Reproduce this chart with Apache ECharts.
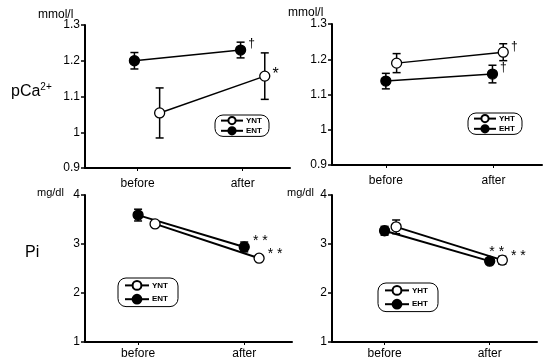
<!DOCTYPE html>
<html>
<head>
<meta charset="utf-8">
<script src="https://cdn.jsdelivr.net/npm/echarts@6/dist/echarts.min.js"></script>
<style>
  html, body { margin: 0; padding: 0; background: #fff; }
  #chart { width: 546px; height: 363px; }
</style>
</head>
<body>
<div id="chart"></div>
<script>
// before / after, four panels (pCa2+ and Pi, normotensive vs hypertensive)
const categories = ['before', 'after'];

// panel 1: pCa2+ normotensive
const yntCaX = [0.21, 0.21];
const yntCa = [1.054, 1.157];
const yntCaErr = [0.07, 0.065];
const yntCaNote = ['', '*'];
const entCaX = [-0.03, -0.02];
const entCa = [1.20, 1.23];
const entCaErr = [0.023, 0.022];
const entCaNote = ['', '†'];

// panel 2: pCa2+ hypertensive
const yhtCaX = [0.10, 0.09];
const yhtCa = [1.189, 1.22];
const yhtCaErr = [0.027, 0.024];
const yhtCaNote = ['', '†'];
const ehtCaX = [0, -0.01];
const ehtCa = [1.138, 1.158];
const ehtCaErr = [0.022, 0.025];
const ehtCaNote = ['', '†'];

// panel 3: Pi normotensive
const yntPiX = [0.16, 0.14];
const yntPi = [3.41, 2.71];
const yntPiErr = [0.04, 0.04];
const yntPiNote = ['', '* *'];
const entPiX = [0, 0];
const entPi = [3.59, 2.94];
const entPiErr = [0.12, 0.1];
const entPiNote = ['', '* *'];

// panel 4: Pi hypertensive
const yhtPiX = [0.11, 0.12];
const yhtPi = [3.35, 2.67];
const yhtPiErr = [0.14, 0.08];
const yhtPiNote = ['', '* *'];
const ehtPiX = [0, 0];
const ehtPi = [3.27, 2.65];
const ehtPiErr = [0.09, 0.06];
const ehtPiNote = ['', '* *'];

const caTicks = [0.9, 1.3, 0.1];
const piTicks = [1, 4, 1];

const font = 'Liberation Sans, Arial, sans-serif';

const grids = [
  { left: 85, top: 25, width: 205, height: 143 },
  { left: 332, top: 24, width: 210, height: 141 },
  { left: 85, top: 195, width: 207, height: 147 },
  { left: 332, top: 195, width: 205, height: 147 }
];
const yTicks = [caTicks, caTicks, piTicks, piTicks];

const xAxes = grids.map((g, i) => ({
  type: 'value',
  gridIndex: i,
  min: -0.5,
  max: 1.45,
  axisLine: { onZero: false, lineStyle: { color: '#000', width: 2 } },
  axisTick: { show: true, customValues: [0, 1], length: 3, lineStyle: { color: '#000' } },
  axisLabel: {
    customValues: [0, 1],
    formatter: v => categories[Math.round(v)],
    color: '#000', fontSize: 12, fontFamily: font, margin: i < 2 ? 10 : 6
  },
  splitLine: { show: false }
}));

const yAxes = grids.map((g, i) => ({
  type: 'value',
  gridIndex: i,
  min: yTicks[i][0],
  max: yTicks[i][1],
  interval: yTicks[i][2],
  axisLine: { show: true, onZero: false, lineStyle: { color: '#000', width: 2 } },
  axisTick: { show: true, length: 4, lineStyle: { color: '#000', width: 1.5 } },
  axisLabel: { color: '#000', fontSize: 12, fontFamily: font, margin: 5 },
  splitLine: { show: false }
}));

function pts(xs, ys, notes, labelCfg) {
  return xs.map((x, k) => ({
    value: [k + x, ys[k]],
    label: Object.assign({ show: notes[k] !== '', formatter: notes[k] }, labelCfg)
  }));
}

function lineSeries(name, idx, xs, ys, notes, filled, labelCfg, lw) {
  return {
    name: name,
    type: 'line',
    xAxisIndex: idx,
    yAxisIndex: idx,
    symbol: 'circle',
    symbolSize: 10,
    z: 3,
    itemStyle: { color: filled ? '#000' : '#fff', borderColor: '#000', borderWidth: 1.3 },
    lineStyle: { color: '#000', width: lw },
    label: { color: '#000', fontFamily: font },
    data: pts(xs, ys, notes, labelCfg)
  };
}

function errSeries(idx, xs, ys, errs) {
  return {
    type: 'custom',
    xAxisIndex: idx,
    yAxisIndex: idx,
    z: 2,
    silent: true,
    data: xs.map((x, k) => [k + x, ys[k], errs[k]]),
    encode: { x: 0, y: 1 },
    renderItem: (params, api) => {
      const x = api.value(0), y = api.value(1), e = api.value(2);
      const top = api.coord([x, y + e]);
      const bot = api.coord([x, y - e]);
      const st = { stroke: '#000', lineWidth: 1.5 };
      return {
        type: 'group',
        children: [
          { type: 'line', shape: { x1: top[0], y1: top[1], x2: bot[0], y2: bot[1] }, style: st },
          { type: 'line', shape: { x1: top[0] - 4, y1: top[1], x2: top[0] + 4, y2: top[1] }, style: st },
          { type: 'line', shape: { x1: bot[0] - 4, y1: bot[1], x2: bot[0] + 4, y2: bot[1] }, style: st }
        ]
      };
    }
  };
}

const dagger = { position: 'right', distance: 2, fontSize: 12, offset: [0, -6] };
const star = { position: 'right', distance: 2, fontSize: 16, offset: [0, -2] };
const star2 = { position: 'right', distance: 3, fontSize: 14, offset: [0, -4] };
const starTop = { position: 'top', distance: 0, fontSize: 14, offset: [7, 4] };

const series = [
  errSeries(0, yntCaX, yntCa, yntCaErr),
  errSeries(0, entCaX, entCa, entCaErr),
  lineSeries('YNT', 0, yntCaX, yntCa, yntCaNote, false, star, 1.5),
  lineSeries('ENT', 0, entCaX, entCa, entCaNote, true, dagger, 1.5),

  errSeries(1, yhtCaX, yhtCa, yhtCaErr),
  errSeries(1, ehtCaX, ehtCa, ehtCaErr),
  lineSeries('YHT', 1, yhtCaX, yhtCa, yhtCaNote, false, dagger, 1.5),
  lineSeries('EHT', 1, ehtCaX, ehtCa, ehtCaNote, true, dagger, 1.5),

  errSeries(2, yntPiX, yntPi, yntPiErr),
  errSeries(2, entPiX, entPi, entPiErr),
  lineSeries('YNT', 2, yntPiX, yntPi, yntPiNote, false, star2, 2),
  lineSeries('ENT', 2, entPiX, entPi, entPiNote, true, Object.assign({}, star2, { offset: [0, -6] }), 2),

  errSeries(3, yhtPiX, yhtPi, yhtPiErr),
  errSeries(3, ehtPiX, ehtPi, ehtPiErr),
  lineSeries('YHT', 3, yhtPiX, yhtPi, yhtPiNote, false, star2, 2),
  lineSeries('EHT', 3, ehtPiX, ehtPi, ehtPiNote, true, starTop, 2)
];

function legendBox(names, left, top, small) {
  return {
    orient: 'vertical',
    left: left,
    top: top,
    data: names,
    selectedMode: false,
    itemWidth: small ? 22 : 24,
    itemHeight: small ? 9 : 11,
    itemGap: small ? 1 : 3,
    padding: small ? [1, 7, 1, 5] : [2, 10, 2, 6],
    borderColor: '#000',
    borderWidth: 1,
    borderRadius: 8,
    textStyle: { color: '#000', fontSize: 8, fontFamily: font, fontWeight: 'bold', padding: [0, 0, 0, -2] }
  };
}

const plainText = { fontSize: 11, fontWeight: 'normal', fontFamily: font, color: '#000' };
const unitText = { fontSize: 12, fontWeight: 'normal', fontFamily: font, color: '#000' };
const bigText = { fontSize: 16, fontWeight: 'normal', fontFamily: font, color: '#000' };

const option = {
  backgroundColor: '#fff',
  animation: false,
  title: [
    { text: 'mmol/l', left: 38, top: 9, padding: 0, textStyle: unitText },
    { text: 'mmol/l', left: 288, top: 7, padding: 0, textStyle: unitText },
    { text: 'mg/dl', left: 37, top: 187, padding: 0, textStyle: plainText },
    { text: 'mg/dl', left: 287, top: 187, padding: 0, textStyle: plainText },
    {
      text: '{a|pCa}{b|2+}', left: 11, top: 82, padding: 0,
      textStyle: {
        fontWeight: 'normal',
        rich: {
          a: { fontSize: 16, fontWeight: 'normal', fontFamily: font, color: '#000', verticalAlign: 'bottom' },
          b: { fontSize: 10, fontWeight: 'normal', fontFamily: font, color: '#000', verticalAlign: 'top', padding: [0, 0, 8, 0] }
        }
      }
    },
    { text: 'Pi', left: 25, top: 245, padding: 0, textStyle: bigText }
  ],
  legend: [
    legendBox(['YNT', 'ENT'], 215, 115, true),
    legendBox(['YHT', 'EHT'], 468, 113, true),
    legendBox(['YNT', 'ENT'], 118, 278, false),
    legendBox(['YHT', 'EHT'], 378, 283, false)
  ],
  grid: grids,
  xAxis: xAxes,
  yAxis: yAxes,
  series: series
};

const chart = echarts.init(document.getElementById('chart'), null, { renderer: 'canvas' });
chart.setOption(option);
</script>
</body>
</html>
